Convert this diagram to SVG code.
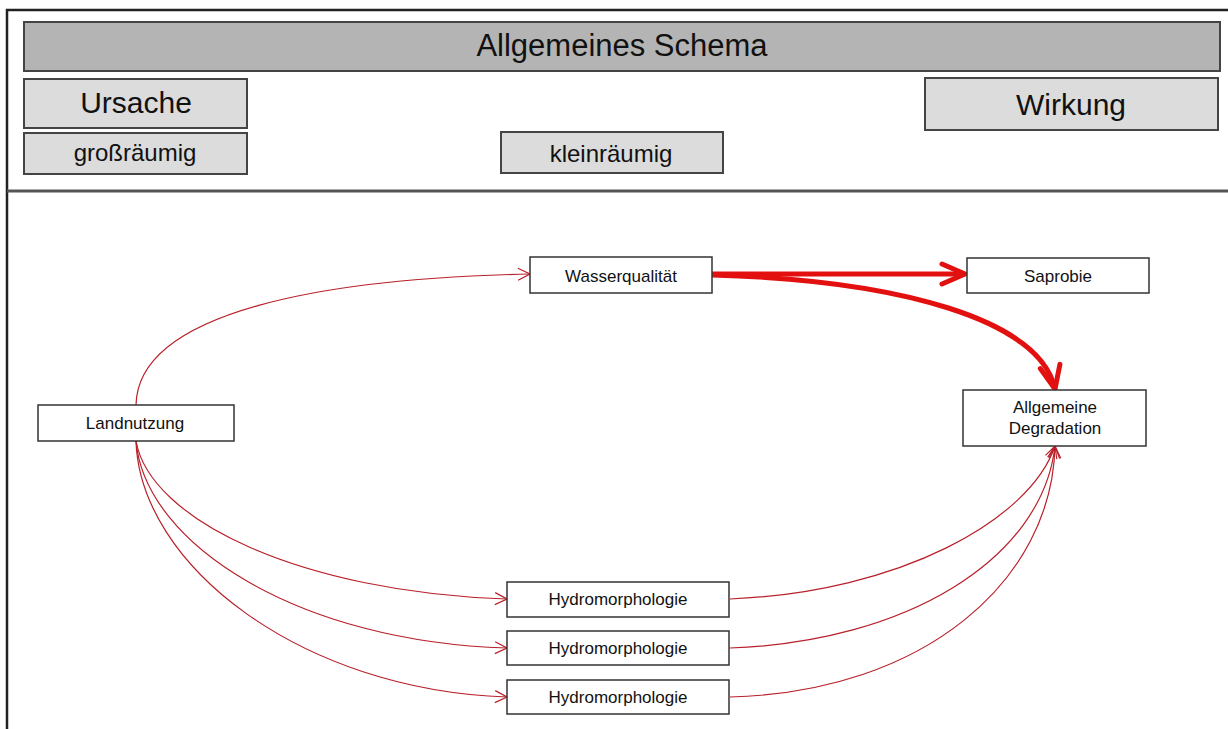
<svg xmlns="http://www.w3.org/2000/svg" width="1228" height="729" viewBox="0 0 1228 729">
<style>
text{font-family:"Liberation Sans",Arial,sans-serif;fill:#111;text-anchor:middle}
.hdr{fill:#dcdcdc;stroke:#444;stroke-width:2}
.node{fill:#fff;stroke:#333;stroke-width:1.5}
.thin{fill:none;stroke:#b8202a;stroke-width:1.2;marker-end:url(#openThin)}
.thick{fill:none;stroke:#e31010;stroke-width:5;marker-end:url(#openThick)}
.n{font-size:17px}
</style>
<defs>
<marker id="openThin" viewBox="0 0 14 14" refX="13" refY="7" markerWidth="14" markerHeight="14" markerUnits="userSpaceOnUse" orient="auto">
<path d="M1,1 L13,7 L1,13" fill="none" stroke="#b8202a" stroke-width="1.2"/>
</marker>
<marker id="openThick" viewBox="0 0 30 30" refX="27" refY="15" markerWidth="30" markerHeight="30" markerUnits="userSpaceOnUse" orient="auto">
<path d="M4,5 L27,15 L4,25" fill="none" stroke="#e31010" stroke-width="5" stroke-linecap="round" stroke-linejoin="round"/>
</marker>
</defs>
<rect x="0" y="0" width="1228" height="729" fill="#fff"/>
<rect x="7" y="10" width="1230" height="730" fill="none" stroke="#222" stroke-width="2.5"/>
<line x1="7" y1="191" x2="1228" y2="191" stroke="#555" stroke-width="3"/>

<g id="title">
<rect x="24" y="22" width="1196" height="49" fill="#b4b4b4" stroke="#444" stroke-width="2"/>
<text x="622" y="56" font-size="31">Allgemeines Schema</text>
</g>
<g id="ursache">
<rect class="hdr" x="24" y="79" width="223" height="49"/>
<text x="136" y="113" font-size="30">Ursache</text>
</g>
<g id="grossraeumig">
<rect class="hdr" x="24" y="133" width="223" height="41"/>
<text x="135" y="161" font-size="24">großräumig</text>
</g>
<g id="kleinraeumig">
<rect class="hdr" x="501" y="132" width="222" height="41"/>
<text x="611" y="162" font-size="24">kleinräumig</text>
</g>
<g id="wirkung">
<rect class="hdr" x="925" y="78" width="293" height="52"/>
<text x="1071" y="115" font-size="30">Wirkung</text>
</g>

<g id="connectors">
<path class="thin" d="M136,405 C138,310 330,278 530,274"/>
<path class="thin" d="M136,441 C150,520 300,592 507,599"/>
<path class="thin" d="M136,441 C145,545 300,642 507,648"/>
<path class="thin" d="M136,441 C140,565 300,690 507,697"/>
<path class="thin" d="M730,599 C900,592 1030,520 1055,446"/>
<path class="thin" d="M730,648 C905,642 1042,560 1055,446"/>
<path class="thin" d="M730,697 C925,692 1052,580 1055,446"/>
<path class="thick" d="M712,274 L965,274"/>
<path class="thick" d="M712,275 C900,280 1040,320 1055,389"/>
</g>

<g id="wasserqualitaet">
<rect class="node" x="530" y="257" width="182" height="36"/>
<text class="n" x="621" y="282">Wasserqualität</text>
</g>
<g id="saprobie">
<rect class="node" x="967" y="258" width="182" height="35"/>
<text class="n" x="1058" y="282">Saprobie</text>
</g>
<g id="landnutzung">
<rect class="node" x="38" y="405" width="196" height="36"/>
<text class="n" x="135" y="429">Landnutzung</text>
</g>
<g id="degradation">
<rect class="node" x="963" y="390" width="183" height="56"/>
<text class="n" x="1055" y="413">Allgemeine</text>
<text class="n" x="1055" y="434">Degradation</text>
</g>
<g id="hydro1">
<rect class="node" x="507" y="582" width="222" height="35"/>
<text class="n" x="618" y="605">Hydromorphologie</text>
</g>
<g id="hydro2">
<rect class="node" x="507" y="631" width="222" height="34"/>
<text class="n" x="618" y="654">Hydromorphologie</text>
</g>
<g id="hydro3">
<rect class="node" x="507" y="680" width="222" height="34"/>
<text class="n" x="618" y="703">Hydromorphologie</text>
</g>
</svg>
